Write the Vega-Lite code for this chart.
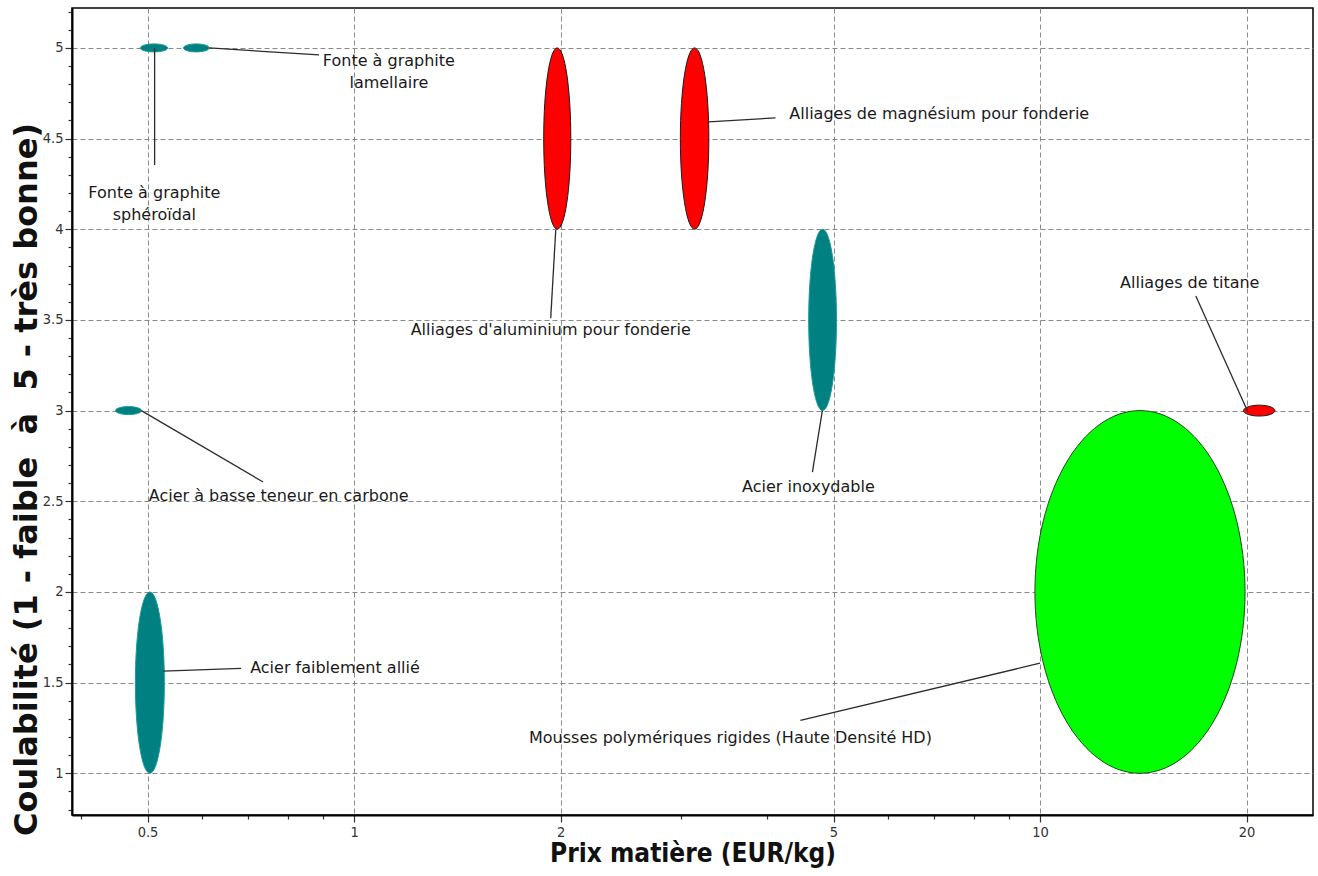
{
  "$schema": "https://vega.github.io/schema/vega-lite/v6.json",
  "width": 1241,
  "height": 807,
  "autosize": "none",
  "padding": {"left": 72, "top": 8, "right": 5, "bottom": 61},
  "background": "white",
  "config": {
    "view": {"stroke": "#000000", "strokeWidth": 1.5},
    "font": "DejaVu Sans"
  },
  "datasets": {
    "materiaux": [
      {"materiau": "Fonte à graphite sphéroïdal", "famille": "Métaux ferreux", "prix_min": 0.488, "prix_max": 0.535, "coul_min": 4.978, "coul_max": 5.022},
      {"materiau": "Fonte à graphite lamellaire", "famille": "Métaux ferreux", "prix_min": 0.564, "prix_max": 0.615, "coul_min": 4.978, "coul_max": 5.022},
      {"materiau": "Alliages d'aluminium pour fonderie", "famille": "Métaux non ferreux", "prix_min": 1.89, "prix_max": 2.07, "coul_min": 4, "coul_max": 5},
      {"materiau": "Alliages de magnésium pour fonderie", "famille": "Métaux non ferreux", "prix_min": 2.99, "prix_max": 3.29, "coul_min": 4, "coul_max": 5},
      {"materiau": "Acier inoxydable", "famille": "Métaux ferreux", "prix_min": 4.6, "prix_max": 5.05, "coul_min": 3, "coul_max": 4},
      {"materiau": "Alliages de titane", "famille": "Métaux non ferreux", "prix_min": 19.8, "prix_max": 22.0, "coul_min": 2.97, "coul_max": 3.03},
      {"materiau": "Acier à basse teneur en carbone", "famille": "Métaux ferreux", "prix_min": 0.449, "prix_max": 0.49, "coul_min": 2.978, "coul_max": 3.022},
      {"materiau": "Acier faiblement allié", "famille": "Métaux ferreux", "prix_min": 0.48, "prix_max": 0.529, "coul_min": 1, "coul_max": 2},
      {"materiau": "Mousses polymériques rigides (Haute Densité HD)", "famille": "Mousses", "prix_min": 9.83, "prix_max": 19.9, "coul_min": 1, "coul_max": 3}
    ],
    "etiquettes": [
      {"texte": "Fonte à graphite\nlamellaire", "lx": 1.124, "ly": 4.928, "x1": 0.615, "y1": 5.0, "x2": 0.889, "y2": 4.961},
      {"texte": "Fonte à graphite\nsphéroïdal", "lx": 0.5116, "ly": 4.2, "x1": 0.512, "y1": 5.0, "x2": 0.512, "y2": 4.354},
      {"texte": "Alliages de magnésium pour fonderie", "lx": 7.13, "ly": 4.636, "x1": 3.286, "y1": 4.592, "x2": 4.115, "y2": 4.614},
      {"texte": "Alliages d'aluminium pour fonderie", "lx": 1.935, "ly": 3.444, "x1": 1.968, "y1": 3.996, "x2": 1.935, "y2": 3.51},
      {"texte": "Alliages de titane", "lx": 16.53, "ly": 3.703, "x1": 16.87, "y1": 3.632, "x2": 20.08, "y2": 2.995},
      {"texte": "Acier à basse teneur en carbone", "lx": 0.7765, "ly": 2.528, "x1": 0.4897, "y1": 3.0, "x2": 0.737, "y2": 2.606},
      {"texte": "Acier inoxydable", "lx": 4.596, "ly": 2.578, "x1": 4.816, "y1": 3.0, "x2": 4.658, "y2": 2.661},
      {"texte": "Acier faiblement allié", "lx": 0.938, "ly": 1.579, "x1": 0.527, "y1": 1.563, "x2": 0.6846, "y2": 1.579},
      {"texte": "Mousses polymériques rigides (Haute Densité HD)", "lx": 3.538, "ly": 1.193, "x1": 10.0, "y1": 1.607, "x2": 4.474, "y2": 1.292}
    ]
  },
  "layer": [
    {
      "data": {"name": "materiaux"},
      "mark": {
        "type": "point",
        "filled": true,
        "opacity": 1,
        "strokeWidth": 1,
        "size": {"expr": "pow(max(abs(scale('x', datum.prix_max) - scale('x', datum.prix_min)), abs(scale('y', datum.coul_max) - scale('y', datum.coul_min))), 2)"},
        "shape": {"expr": "'M ' + (-abs(scale('x', datum.prix_max) - scale('x', datum.prix_min)) / max(abs(scale('x', datum.prix_max) - scale('x', datum.prix_min)), abs(scale('y', datum.coul_max) - scale('y', datum.coul_min)))) + ' 0 A ' + (abs(scale('x', datum.prix_max) - scale('x', datum.prix_min)) / max(abs(scale('x', datum.prix_max) - scale('x', datum.prix_min)), abs(scale('y', datum.coul_max) - scale('y', datum.coul_min)))) + ' ' + (abs(scale('y', datum.coul_max) - scale('y', datum.coul_min)) / max(abs(scale('x', datum.prix_max) - scale('x', datum.prix_min)), abs(scale('y', datum.coul_max) - scale('y', datum.coul_min)))) + ' 0 1 0 ' + (abs(scale('x', datum.prix_max) - scale('x', datum.prix_min)) / max(abs(scale('x', datum.prix_max) - scale('x', datum.prix_min)), abs(scale('y', datum.coul_max) - scale('y', datum.coul_min)))) + ' 0 A ' + (abs(scale('x', datum.prix_max) - scale('x', datum.prix_min)) / max(abs(scale('x', datum.prix_max) - scale('x', datum.prix_min)), abs(scale('y', datum.coul_max) - scale('y', datum.coul_min)))) + ' ' + (abs(scale('y', datum.coul_max) - scale('y', datum.coul_min)) / max(abs(scale('x', datum.prix_max) - scale('x', datum.prix_min)), abs(scale('y', datum.coul_max) - scale('y', datum.coul_min)))) + ' 0 1 0 ' + (-abs(scale('x', datum.prix_max) - scale('x', datum.prix_min)) / max(abs(scale('x', datum.prix_max) - scale('x', datum.prix_min)), abs(scale('y', datum.coul_max) - scale('y', datum.coul_min)))) + ' 0 Z'"},
        "xOffset": {"expr": "(scale('x', datum.prix_max) - scale('x', datum.prix_min)) / 2"},
        "yOffset": {"expr": "(scale('y', datum.coul_max) - scale('y', datum.coul_min)) / 2"}
      },
      "encoding": {
        "x": {
          "field": "prix_min",
          "type": "quantitative",
          "title": "Prix matière (EUR/kg)",
          "scale": {"type": "log", "domain": [0.388, 25], "nice": false},
          "axis": {
            "values": [0.4, 0.5, 0.6, 0.7, 0.8, 0.9, 1, 2, 3, 4, 5, 6, 7, 8, 9, 10, 20],
            "tickCount": 200,
            "labelExpr": "indexof([0.5, 1, 2, 5, 10, 20], datum.value) >= 0 ? format(datum.value, '~g') : ''",
            "grid": true,
            "gridColor": "#8a8a8a",
            "gridDash": [5, 3],
            "gridWidth": 1,
            "gridOpacity": {"condition": {"test": "indexof([0.5, 1, 2, 5, 10, 20], datum.value) >= 0", "value": 1}, "value": 0},
            "tickSize": {"condition": {"test": "indexof([0.5, 1, 2, 5, 10, 20], datum.value) >= 0", "value": 7}, "value": 4},
            "tickColor": "#333333",
            "tickWidth": 1.2,
            "domainColor": "#000000",
            "domainWidth": 2,
            "labelFont": "DejaVu Sans Condensed, DejaVu Sans",
            "labelFontSize": 14.5,
            "labelColor": "#333333",
            "labelPadding": 3,
            "labelOverlap": false,
            "labelFlush": false,
            "titleFont": "DejaVu Sans Condensed, DejaVu Sans",
            "titleFontWeight": "bold",
            "titleFontSize": 26,
            "titleColor": "#111111",
            "titlePadding": 2
          }
        },
        "y": {
          "field": "coul_min",
          "type": "quantitative",
          "title": "Coulabilité (1 - faible \u00a0à\u00a0 5 - très bonne)",
          "scale": {"domain": [0.77, 5.22], "nice": false, "zero": false},
          "axis": {
            "values": [0.8, 0.9, 1, 1.1, 1.2, 1.3, 1.4, 1.5, 1.6, 1.7, 1.8, 1.9, 2, 2.1, 2.2, 2.3, 2.4, 2.5, 2.6, 2.7, 2.8, 2.9, 3, 3.1, 3.2, 3.3, 3.4, 3.5, 3.6, 3.7, 3.8, 3.9, 4, 4.1, 4.2, 4.3, 4.4, 4.5, 4.6, 4.7, 4.8, 4.9, 5, 5.1, 5.2],
            "tickCount": 200,
            "labelExpr": "abs(datum.value * 2 - round(datum.value * 2)) < 0.01 ? format(datum.value, '~g') : ''",
            "grid": true,
            "gridColor": "#8a8a8a",
            "gridDash": [5, 3],
            "gridWidth": 1,
            "gridOpacity": {"condition": {"test": "abs(datum.value * 2 - round(datum.value * 2)) < 0.01", "value": 1}, "value": 0},
            "tickSize": {"condition": {"test": "abs(datum.value * 2 - round(datum.value * 2)) < 0.01", "value": 7}, "value": 4},
            "tickColor": "#333333",
            "tickWidth": 1.2,
            "domainColor": "#000000",
            "domainWidth": 2,
            "labelFont": "DejaVu Sans Condensed, DejaVu Sans",
            "labelFontSize": 14.5,
            "labelColor": "#333333",
            "labelPadding": 2,
            "labelOverlap": false,
            "labelFlush": false,
            "titleFont": "DejaVu Sans",
            "titleFontWeight": "bold",
            "titleFontSize": 32,
            "titleColor": "#111111",
            "titleX": -46,
            "titleY": 471,
            "titleAngle": -90,
            "titleBaseline": "middle",
            "titleAlign": "center"
          }
        },
        "color": {
          "field": "famille",
          "type": "nominal",
          "scale": {"domain": ["Métaux ferreux", "Métaux non ferreux", "Mousses"], "range": ["#008080", "#ff0000", "#00ff00"]},
          "legend": null
        },
        "stroke": {
          "field": "famille",
          "type": "nominal",
          "scale": {"domain": ["Métaux ferreux", "Métaux non ferreux", "Mousses"], "range": ["#1a9a9a", "#1a1a1a", "#1f4a1f"]},
          "legend": null
        },
        "tooltip": {"field": "materiau", "type": "nominal"}
      }
    },
    {
      "data": {"name": "etiquettes"},
      "mark": {"type": "rule", "color": "#2b2b2b", "strokeWidth": 1.3},
      "encoding": {
        "x": {"field": "x1", "type": "quantitative", "title": "Prix matière (EUR/kg)"},
        "x2": {"field": "x2"},
        "y": {"field": "y1", "type": "quantitative", "title": "Coulabilité (1 - faible \u00a0à\u00a0 5 - très bonne)"},
        "y2": {"field": "y2"}
      }
    },
    {
      "data": {"name": "etiquettes"},
      "mark": {"type": "text", "font": "DejaVu Sans", "fontSize": 16, "color": "#1a1a1a", "align": "center", "baseline": "middle", "lineBreak": "\n", "lineHeight": 22},
      "encoding": {
        "x": {"field": "lx", "type": "quantitative", "title": "Prix matière (EUR/kg)"},
        "y": {"field": "ly", "type": "quantitative", "title": "Coulabilité (1 - faible \u00a0à\u00a0 5 - très bonne)"},
        "text": {"field": "texte", "type": "nominal"}
      }
    }
  ]
}
